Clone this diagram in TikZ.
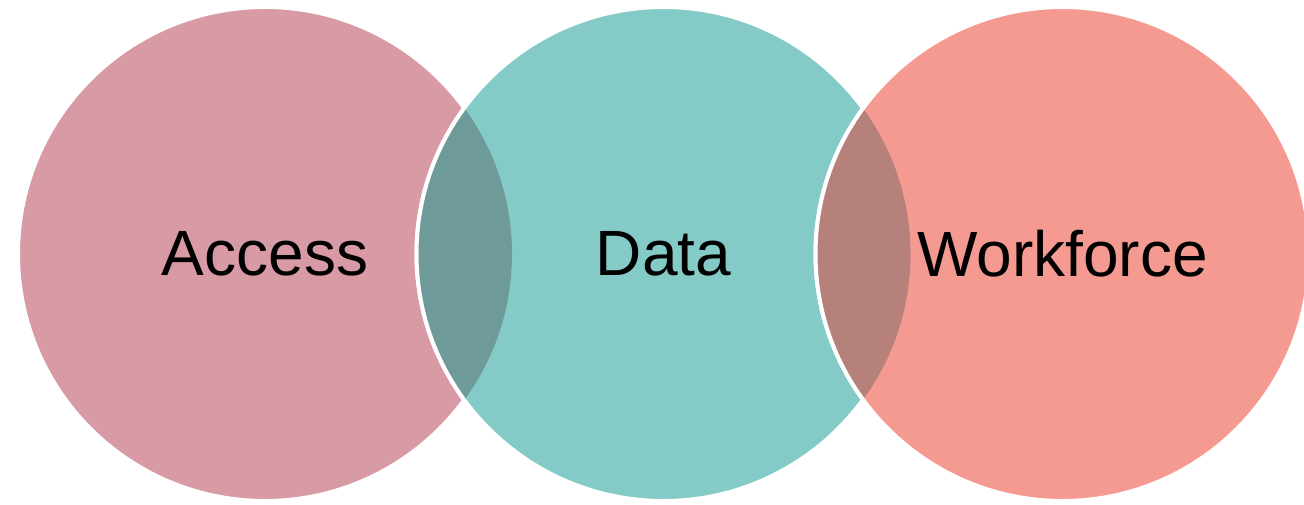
\documentclass[tikz,border=0pt]{standalone}
\usepackage{fontspec}
\setmainfont{Liberation Sans}
\definecolor{accessfill}{HTML}{D89BA6}
\definecolor{datafill}{HTML}{84CBC8}
\definecolor{workfill}{HTML}{F59A91}
\definecolor{lensone}{HTML}{6E9A99}
\definecolor{lenstwo}{HTML}{B5817A}

\begin{document}
\begin{tikzpicture}[x=0.5pt,y=0.5pt,
	rim/.style={draw=white,line width=2pt},
	lbl/.style={font=\fontsize{32}{38}\selectfont,text=black}]
	\useasboundingbox (0,0) rectangle (1304,504);
	\coordinate (acc) at (265,250);
	\coordinate (dat) at (663.5,250);
	\coordinate (wrk) at (1062.5,250);
	\def\rad{247}
%	circles
	\fill[accessfill,rim] (acc) circle (\rad);
	\fill[datafill,rim] (dat) circle (\rad);
	\fill[workfill,rim] (wrk) circle (\rad);
%	overlaps
	\begin{scope}
		\clip (acc) circle (\rad);
		\fill[lensone,rim] (dat) circle (\rad);
	\end{scope}
	\begin{scope}
		\clip (dat) circle (\rad);
		\fill[lenstwo,rim] (wrk) circle (\rad);
	\end{scope}
%	labels
	\node[lbl] (accl) at (acc) {Access};
	\node[lbl] (datl) at (dat) {Data};
	\node[lbl] (wrkl) at (wrk) {Workforce};
\end{tikzpicture}
\end{document}
